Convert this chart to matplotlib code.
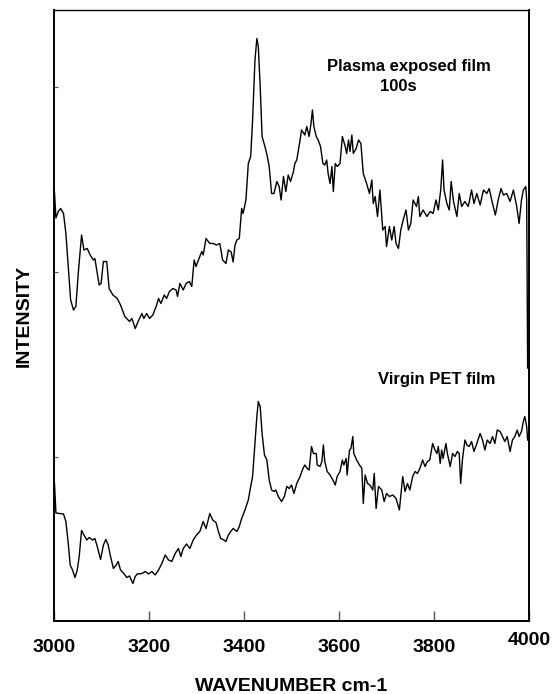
import matplotlib
matplotlib.use("Agg")
import matplotlib.pyplot as plt
import matplotlib.transforms as mtransforms

plasma_wn = [3001, 3004, 3009, 3014, 3020, 3025, 3030, 3035, 3041, 3046,
             3051, 3058, 3063, 3070, 3076, 3083, 3086, 3091, 3095, 3099,
             3104, 3111, 3116, 3124, 3133, 3140, 3149, 3159, 3164, 3171,
             3177, 3185, 3189, 3195, 3201, 3208, 3215, 3220, 3225, 3232,
             3237, 3243, 3250, 3257, 3260, 3265, 3272, 3278, 3285, 3290,
             3295, 3299, 3304, 3311, 3314, 3320, 3328, 3335, 3342, 3349,
             3355, 3362, 3367, 3373, 3377, 3381, 3385, 3390, 3395, 3398,
             3404, 3409, 3414, 3418, 3423, 3427, 3430, 3434, 3438, 3444,
             3449, 3453, 3458, 3463, 3469, 3474, 3478, 3483, 3488, 3493,
             3498, 3504, 3507, 3511, 3518, 3521, 3528, 3532, 3537, 3541,
             3544, 3547, 3552, 3556, 3561, 3566, 3570, 3574, 3577, 3581,
             3585, 3588, 3592, 3596, 3602, 3607, 3613, 3616, 3620, 3623,
             3627, 3630, 3636, 3641, 3646, 3651, 3658, 3664, 3669, 3672,
             3676, 3681, 3686, 3692, 3697, 3700, 3706, 3711, 3716, 3720,
             3725, 3730, 3735, 3741, 3746, 3751, 3756, 3763, 3767, 3770,
             3777, 3785, 3792, 3798, 3804, 3809, 3814, 3818, 3821, 3827,
             3832, 3836, 3841, 3848, 3853, 3858, 3865, 3872, 3879, 3884,
             3890, 3897, 3904, 3911, 3916, 3923, 3929, 3935, 3941, 3946,
             3953, 3960, 3967, 3974, 3979, 3984, 3988, 3993, 3995, 3997]
plasma_int = [85.8, 80.6, 81.9, 82.5, 81.5, 77.5, 70.9, 64.2, 62.2, 62.9,
              69.5, 77.2, 74.2, 74.5, 73.2, 72.2, 72.5, 69.5, 67.2, 67.5,
              71.9, 71.9, 66.5, 65.2, 64.5, 63.2, 60.9, 59.9, 60.5, 58.5,
              59.9, 61.5, 60.5, 61.5, 60.5, 61.2, 62.9, 64.5, 63.5, 65.2,
              64.5, 65.9, 66.5, 66.2, 64.9, 67.5, 66.2, 67.5, 67.9, 66.9,
              72.2, 70.9, 72.2, 73.9, 73.2, 76.5, 75.5, 75.5, 75.2, 75.5,
              72.2, 71.5, 74.2, 73.8, 71.8, 75.2, 76.2, 76.5, 82.5, 81.5,
              84.2, 91.5, 92.9, 100.2, 112.2, 116.5, 114.9, 106.9, 96.9, 94.9,
              92.9, 90.9, 85.5, 85.5, 87.9, 86.9, 84.2, 88.9, 85.9, 89.2,
              87.9, 89.9, 91.5, 92.2, 96.2, 98.2, 97.2, 98.9, 96.9, 99.5,
              102.2, 98.9, 96.9, 96.2, 94.9, 91.5, 91.2, 92.2, 89.5, 87.5,
              90.9, 85.9, 91.5, 90.9, 91.5, 96.9, 94.9, 93.5, 96.2, 93.9,
              97.2, 93.5, 94.5, 96.2, 95.5, 89.5, 87.5, 85.5, 88.2, 83.5,
              84.9, 80.9, 86.2, 78.2, 78.9, 74.9, 78.9, 76.2, 78.9, 75.5,
              74.5, 78.2, 80.2, 82.2, 78.2, 79.5, 84.2, 82.9, 84.9, 80.9,
              82.2, 80.9, 81.9, 81.5, 84.2, 82.2, 86.2, 92.2, 86.2, 83.5,
              82.2, 87.9, 83.9, 80.9, 85.5, 82.9, 83.9, 82.9, 86.2, 83.5,
              85.5, 83.2, 86.2, 85.5, 86.5, 83.5, 81.2, 84.2, 86.5, 85.2,
              85.5, 83.9, 86.2, 82.9, 79.5, 84.2, 86.2, 86.9, 84.2, 50.6]

virgin_wn = [3001, 3004, 3011, 3020, 3025, 3030, 3034, 3039, 3044, 3049,
             3053, 3058, 3063, 3069, 3074, 3081, 3086, 3091, 3098, 3104,
             3109, 3114, 3119, 3125, 3131, 3135, 3140, 3147, 3153, 3159,
             3166, 3171, 3175, 3185, 3192, 3199, 3206, 3213, 3220, 3227,
             3234, 3241, 3248, 3255, 3262, 3267, 3272, 3279, 3286, 3293,
             3300, 3307, 3314, 3320, 3328, 3334, 3341, 3346, 3351, 3356,
             3362, 3367, 3372, 3377, 3385, 3390, 3395, 3402, 3409, 3414,
             3418, 3423, 3427, 3430, 3434, 3438, 3443, 3448, 3453, 3458,
             3463, 3467, 3472, 3479, 3485, 3490, 3495, 3500, 3505, 3511,
             3518, 3524, 3528, 3533, 3537, 3542, 3546, 3552, 3554, 3560,
             3564, 3567, 3570, 3575, 3581, 3587, 3592, 3596, 3602, 3607,
             3610, 3615, 3617, 3622, 3625, 3629, 3631, 3637, 3643, 3648,
             3651, 3655, 3660, 3665, 3671, 3674, 3678, 3683, 3690, 3695,
             3700, 3706, 3713, 3720, 3727, 3734, 3739, 3744, 3749, 3755,
             3760, 3765, 3770, 3776, 3781, 3786, 3791, 3797, 3802, 3806,
             3809, 3813, 3816, 3819, 3825, 3828, 3834, 3839, 3844, 3849,
             3853, 3856, 3860, 3865, 3869, 3874, 3879, 3884, 3890, 3897,
             3902, 3907, 3912, 3918, 3923, 3928, 3933, 3939, 3944, 3949,
             3954, 3960, 3965, 3970, 3975, 3979, 3984, 3988, 3991, 3995,
             3997]
virgin_int = [27.6, 21.6, 21.5, 21.4, 19.9, 15.5, 11.2, 10.2, 8.7, 10.2,
              12.9, 18.1, 17.2, 16.2, 16.7, 16.2, 16.5, 14.9, 12.3, 15.2,
              16.3, 15.2, 12.9, 10.5, 11.2, 11.9, 10.2, 9.5, 8.7, 9.0,
              7.5, 8.9, 9.4, 9.5, 9.9, 9.4, 9.9, 9.2, 10.2, 11.5,
              13.2, 12.2, 11.9, 13.5, 14.5, 12.9, 14.5, 15.4, 14.5, 16.2,
              17.2, 17.9, 19.9, 18.5, 21.5, 20.2, 19.7, 17.9, 16.5, 16.3,
              15.9, 17.2, 17.9, 18.5, 17.9, 18.9, 20.5, 22.2, 24.2, 26.9,
              28.9, 35.5, 40.9, 43.9, 42.9, 37.5, 33.2, 32.2, 28.2, 26.2,
              25.9, 26.2, 24.9, 23.9, 24.9, 26.9, 26.5, 27.2, 25.5, 27.5,
              28.9, 30.5, 31.2, 30.5, 30.2, 34.9, 33.5, 33.5, 31.2, 30.9,
              31.9, 35.2, 31.9, 29.9, 29.2, 28.2, 27.2, 28.9, 29.9, 32.2,
              31.2, 32.5, 29.2, 34.2, 34.5, 36.9, 33.5, 32.2, 31.2, 30.5,
              23.5, 29.2, 27.5, 27.2, 26.2, 29.5, 22.5, 26.9, 26.2, 23.9,
              25.5, 24.9, 25.2, 24.5, 22.2, 28.9, 25.9, 27.5, 26.2, 28.9,
              29.9, 29.5, 30.5, 32.2, 30.9, 31.9, 32.2, 35.5, 34.2, 33.5,
              34.9, 31.5, 34.2, 32.5, 35.5, 33.5, 30.9, 33.5, 32.9, 33.9,
              33.5, 27.5, 32.5, 36.2, 35.2, 34.9, 35.9, 33.9, 35.5, 37.5,
              36.2, 34.2, 36.2, 35.5, 36.9, 35.5, 38.2, 37.9, 36.9, 35.9,
              36.9, 33.9, 36.2, 36.9, 38.2, 36.9, 37.9, 39.9, 40.9, 38.9,
              36.2]

x_ticks = [3000, 3200, 3400, 3600, 3800, 4000]
y_ticks = [32.8, 69.8, 106.8]

plt.rcParams['font.family'] = ['Liberation Sans', 'DejaVu Sans']

fig = plt.figure(figsize=(5.54, 6.94), dpi=100)
ax = fig.add_axes([0.0975, 0.1052, 0.8575, 0.8804])

ax.plot(plasma_wn, plasma_int, color='black', lw=1.0)
ax.plot(virgin_wn, virgin_int, color='black', lw=1.0)

ax.set_xlim(3000, 4000)
ax.set_ylim(0, 122.2)

ax.set_xticks(x_ticks)
ax.set_xticklabels([str(t) for t in x_ticks], fontsize=14, fontweight='bold')
ax.tick_params(axis='x', direction='in', length=7, width=1, color='#555555', pad=13)
ax.set_yticks(y_ticks)
ax.set_yticklabels([])
ax.tick_params(axis='y', direction='in', length=3, width=0.8, color='#555555')

# the 4000 label sits a bit higher in the original
lbl = ax.get_xticklabels()[-1]
lbl.set_transform(lbl.get_transform() + mtransforms.ScaledTranslation(0, 5 / 72, fig.dpi_scale_trans))

for side in ['left', 'bottom', 'right']:
    ax.spines[side].set_linewidth(1.4)
ax.spines['top'].set_linewidth(1.0)

ax.set_xlabel('WAVENUMBER cm-1', fontsize=14, fontweight='bold', labelpad=16)
ax.set_ylabel('INTENSITY', fontsize=14, fontweight='bold', labelpad=12)

ax.text(3575, 110.8, 'Plasma exposed film', fontsize=12, fontweight='bold', va='center', ha='left')
ax.text(3686, 106.8, '100s', fontsize=12, fontweight='bold', va='center', ha='left')
ax.text(3682, 48.2, 'Virgin PET film', fontsize=12, fontweight='bold', va='center', ha='left')

fig.savefig('out.png', dpi=100)
